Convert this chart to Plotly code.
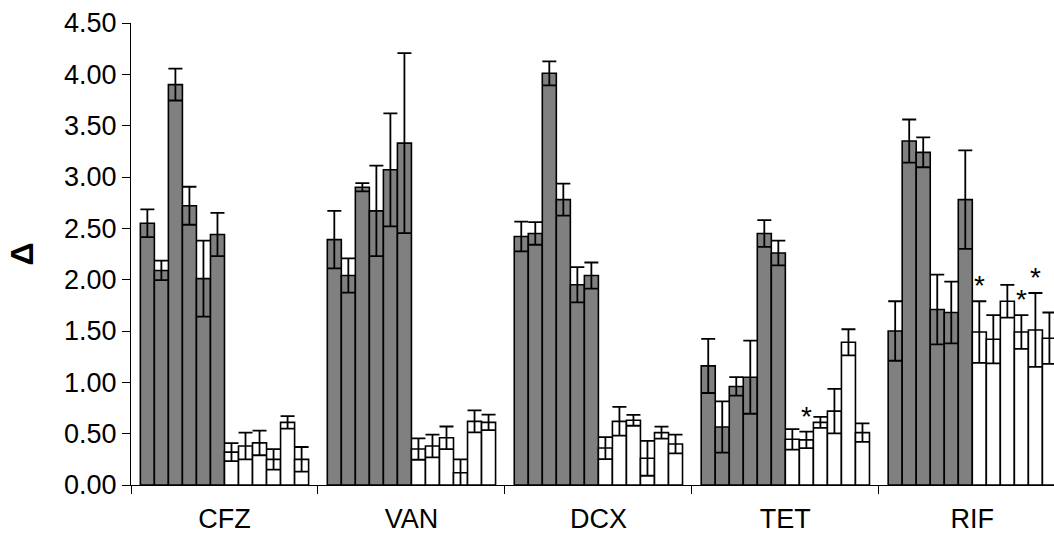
import plotly.graph_objects as go

categories = ["CFZ", "VAN", "DCX", "TET", "RIF"]

# 12 bars per category: first 6 grey, last 6 white (mean values)
cfz_mean = [2.55, 2.09, 3.90, 2.72, 2.01, 2.44, 0.32, 0.38, 0.41, 0.25, 0.61, 0.25]
van_mean = [2.39, 2.04, 2.90, 2.67, 3.07, 3.33, 0.35, 0.38, 0.46, 0.12, 0.62, 0.61]
dcx_mean = [2.42, 2.45, 4.01, 2.78, 1.95, 2.04, 0.36, 0.62, 0.63, 0.26, 0.51, 0.40]
tet_mean = [1.16, 0.565, 0.96, 1.05, 2.45, 2.26, 0.445, 0.44, 0.61, 0.72, 1.39, 0.51]
rif_mean = [1.50, 3.35, 3.24, 1.71, 1.68, 2.78, 1.49, 1.42, 1.79, 1.49, 1.51, 1.43]

# symmetric error values
cfz_err = [0.135, 0.095, 0.155, 0.185, 0.37, 0.21, 0.088, 0.13, 0.12, 0.10, 0.06, 0.12]
van_err = [0.28, 0.167, 0.04, 0.44, 0.55, 0.877, 0.104, 0.11, 0.11, 0.13, 0.107, 0.076]
dcx_err = [0.145, 0.11, 0.117, 0.156, 0.172, 0.127, 0.107, 0.14, 0.053, 0.17, 0.058, 0.091]
tet_err = [0.264, 0.25, 0.09, 0.356, 0.13, 0.12, 0.10, 0.08, 0.054, 0.217, 0.127, 0.09]
rif_err = [0.29, 0.21, 0.145, 0.34, 0.30, 0.48, 0.30, 0.235, 0.16, 0.165, 0.36, 0.25]

# significance markers (category, bar index)
star_cats = ["TET", "RIF", "RIF", "RIF"]
star_bars = [7, 6, 9, 10]

y_ticks = [0, 0.5, 1.0, 1.5, 2.0, 2.5, 3.0, 3.5, 4.0, 4.5]

means = [cfz_mean, van_mean, dcx_mean, tet_mean, rif_mean]
errs = [cfz_err, van_err, dcx_err, tet_err, rif_err]
n_bars = 12
FONT = "Liberation Sans, Arial, sans-serif"
TICK_SIZE = 27

fig = go.Figure()
for j in range(n_bars):
    fig.add_trace(go.Bar(
        x=categories,
        y=[m[j] for m in means],
        error_y=dict(type="data", array=[e[j] for e in errs], symmetric=True,
                     color="black", thickness=1.8, width=7),
        marker=dict(color="#808080" if j < 6 else "white",
                    line=dict(color="black", width=1.6)),
        showlegend=False,
        hoverinfo="skip",
    ))

bargap = 0.1
group_w = 1 - bargap
annotations = []
for c, b in zip(star_cats, star_bars):
    ci = categories.index(c)
    xpos = ci - group_w / 2 + (b + 0.5) * group_w / n_bars
    yv = means[ci][b] + errs[ci][b]
    annotations.append(dict(x=xpos, y=yv, xref="x", yref="y", text="*",
                            showarrow=False, yanchor="bottom", xanchor="center",
                            yshift=-2,
                            font=dict(family=FONT, size=28, color="black")))

fig.update_layout(
    width=1054, height=536,
    margin=dict(l=131, r=0, t=23, b=51),
    paper_bgcolor="white", plot_bgcolor="white",
    barmode="group", bargap=bargap, bargroupgap=0,
    font=dict(family=FONT, size=TICK_SIZE, color="black"),
    annotations=annotations,
    xaxis=dict(type="category", range=[-0.5, 4.437], showline=True,
               linecolor="black", linewidth=1, ticks="outside", ticklen=8,
               tickcolor="black", tickson="boundaries", showgrid=False,
               ticklabelstandoff=10,
               tickfont=dict(family=FONT, size=TICK_SIZE, color="black")),
    yaxis=dict(range=[0, 4.5], tickvals=y_ticks, tickformat=".2f",
               showline=True, linecolor="black", linewidth=1,
               ticks="outside", ticklen=8, tickcolor="black",
               showgrid=False, zeroline=False,
               tickfont=dict(family=FONT, size=TICK_SIZE, color="black"),
               title=dict(text="<b>Δ</b>", standoff=20,
                          font=dict(family=FONT, size=32, color="black"))),
)

fig.write_html("out.html", config={"displayModeBar": False},
               post_script="document.body.style.margin='0px';document.body.style.overflow='hidden';")
